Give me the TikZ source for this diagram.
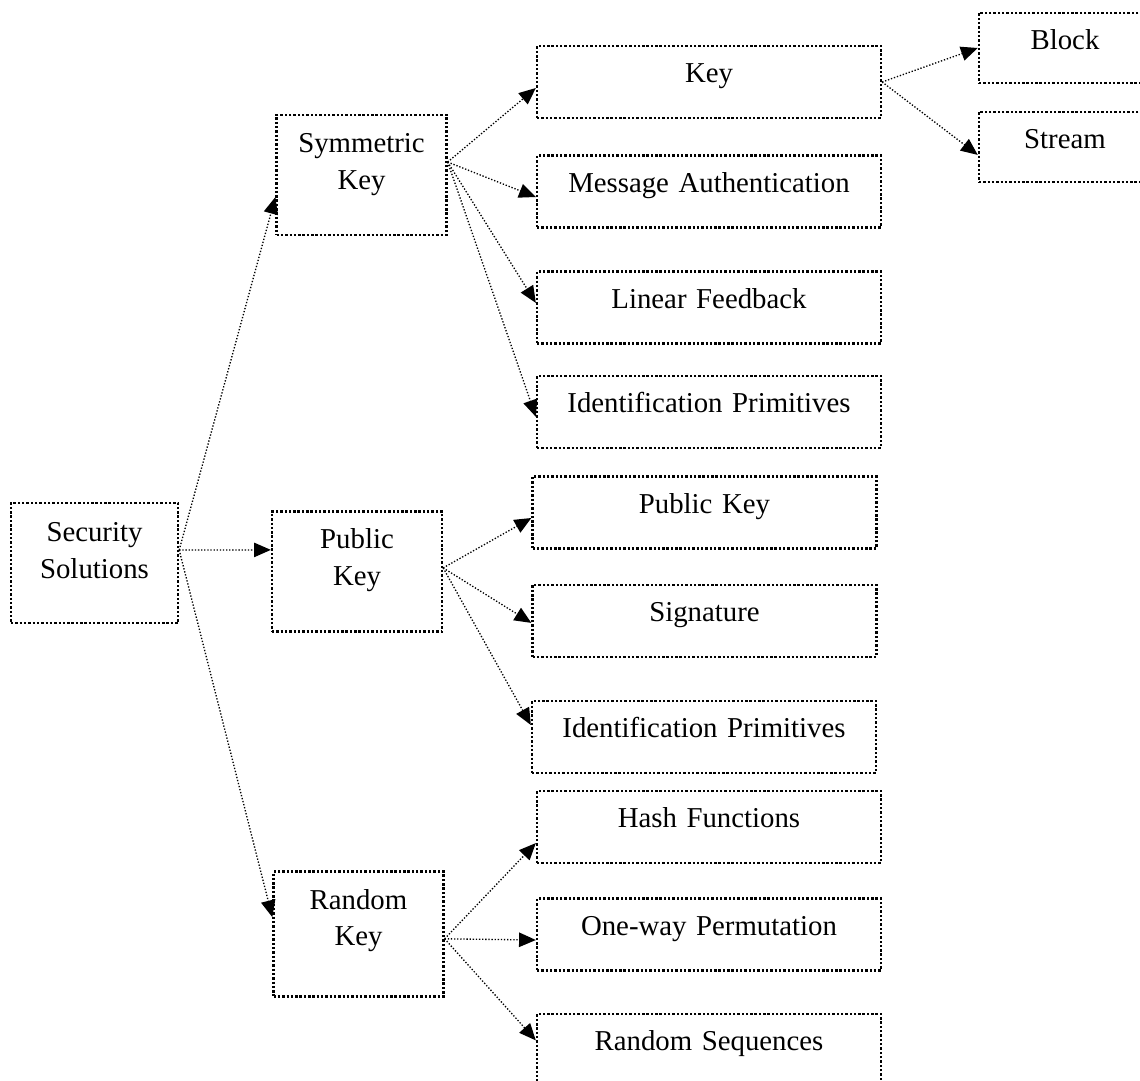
\documentclass[tikz,border=0pt]{standalone}
\usepackage{fontspec}
\setmainfont{Liberation Serif}
\usetikzlibrary{arrows,arrows.meta,positioning,shapes,calc}

\begin{document}
\begin{tikzpicture}[x = 0.4167pt, y = -0.4167pt,
  box/.style = {draw, line width = 1pt, dash pattern = on 1pt off .8pt,
    rectangle, inner sep = 0pt, align = center,
    font = \fontsize{12}{15.4}\selectfont},
  leaf/.style = {box, text width = 143.3pt, text height = 15.4pt, text depth = 14.6pt},
  mid/.style = {box, text width = 70.8pt, text height = 15.6pt, text depth = 34.4pt},
  arr/.style = {-{Triangle[length = 7pt, width = 6pt]}, line width = .55pt,
    dash pattern = on .55pt off .75pt}]
\useasboundingbox (0,0) rectangle (1140,1081);
\clip (0,0) rectangle (1140,1081);
% root and middle level
\node[box, text width = 69.6pt, text height = 16pt, text depth = 34pt] (sec) at (94.5,563) {Security\\Solutions};
\node[mid] (sym) at (361.5,175) {Symmetric\\Key};
\node[mid] (pub) at (357,571.5) {Public\\Key};
\node[mid, text depth = 36.4pt] (rnd) at (358.5,934) {Random\\Key};
% leaves
\node[leaf] (key) at (709,82) {Key};
\node[leaf] (mac) at (709,191.5) {Message Authentication};
\node[leaf] (lfb) at (709,307.5) {Linear Feedback};
\node[leaf] (idpa) at (709,412) {Identification Primitives};
\node[leaf] (pkl) at (704.5,512.5) {Public Key};
\node[leaf] (sig) at (704.5,621) {Signature};
\node[leaf] (idpb) at (704,737) {Identification Primitives};
\node[leaf] (hash) at (709,827) {Hash Functions};
\node[leaf] (owp) at (709,934.5) {One-way Permutation};
\node[leaf] (rsq) at (709,1050) {Random Sequences};
\node[leaf, text width = 71.7pt, text depth = 13.8pt] (blk) at (1065,48) {Block};
\node[leaf, text width = 71.7pt, text depth = 13.8pt] (str) at (1065,147) {Stream};
% fan-out points
\coordinate (secout) at ([yshift = 5.4pt]sec.east);
\coordinate (symout) at ([yshift = 5.4pt]sym.east);
\coordinate (pubout) at ([yshift = 1.5pt]pub.east);
\coordinate (rndout) at ([yshift = -2pt]rnd.east);
\draw[arr] (secout) -- ([yshift = -9.2pt]sym.west);
\draw[arr] (secout) -- ([yshift = 9pt]pub.west);
\draw[arr] (secout) -- ([yshift = 7pt]rnd.west);
\draw[arr] (symout) -- ([yshift = -2.5pt]key.west);
\draw[arr] (symout) -- ([yshift = -2.3pt]mac.west);
\draw[arr] (symout) -- ([yshift = 1.9pt]lfb.west);
\draw[arr] (symout) -- ([yshift = -2pt]idpa.west);
\draw[arr] (key.east) -- (blk.west);
\draw[arr] (key.east) -- ([yshift = -3.3pt]str.west);
\draw[arr] (pubout) -- ([yshift = -2.3pt]pkl.west);
\draw[arr] (pubout) -- ([yshift = -.8pt]sig.west);
\draw[arr] (pubout) -- ([yshift = 5pt]idpb.west);
\draw[arr] (rndout) -- ([yshift = -6.7pt]hash.west);
\draw[arr] (rndout) -- ([yshift = -2.3pt]owp.west);
\draw[arr] (rndout) -- ([yshift = 4pt]rsq.west);
\end{tikzpicture}
\end{document}
